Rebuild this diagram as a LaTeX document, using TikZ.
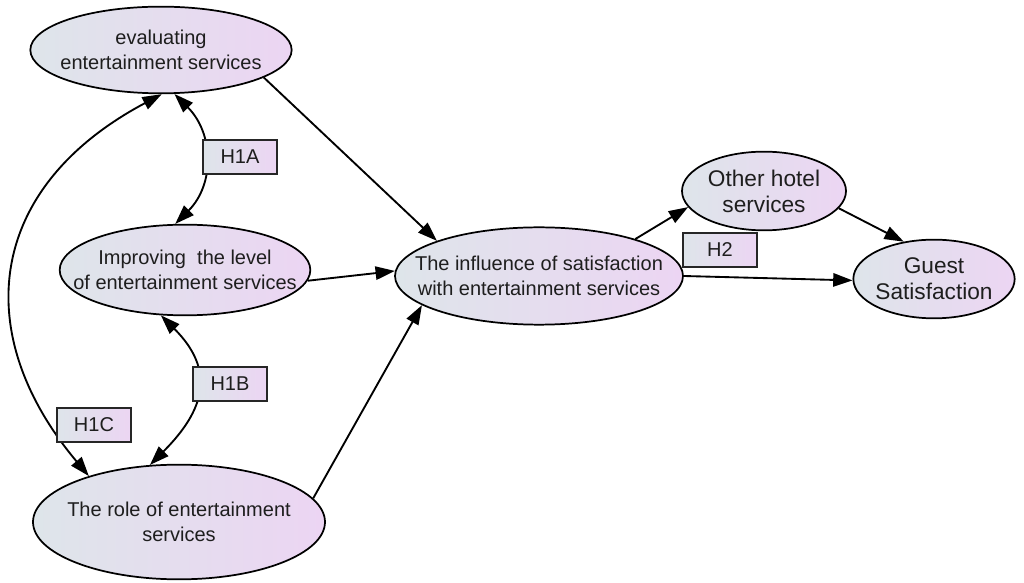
\documentclass[tikz,border=0pt]{standalone}
\usepackage{fontspec}
\setmainfont{Liberation Sans}
\usetikzlibrary{shapes.geometric,arrows.meta}
\definecolor{lfill}{HTML}{DEE5EA}
\definecolor{rfill}{HTML}{ECD5F3}
\definecolor{txt}{HTML}{1E1E1E}
\tikzset{
  ell/.style={ellipse, draw=black, line width=1.3pt, inner xsep=-24pt, inner ysep=-6pt, left color=lfill, right color=rfill,
     text=txt, align=center, font=\fontsize{15}{18.5}\selectfont},
  bigell/.style={ell, font=\fontsize{17}{19.5}\selectfont},
  hbox/.style={rectangle, draw=black!85, line width=1.4pt, left color=lfill, right color=rfill,
     text=txt, minimum width=56pt, minimum height=26pt, inner sep=0pt, font=\fontsize{15}{18}\selectfont},
  conn/.style={line width=1.4pt, -{Triangle[length=14.5pt,width=10pt]}},
  dconn/.style={line width=1.4pt, {Triangle[length=14.5pt,width=10pt]}-{Triangle[length=14.5pt,width=10pt]}}
}
\begin{document}
\begin{tikzpicture}[x=0.75pt,y=0.75pt]
\useasboundingbox (0,0) rectangle (1024,582);
\node[ell, minimum width=196pt, minimum height=65pt] (eval) at (161,532) {evaluating\\entertainment services};
\node[ell, minimum width=188pt, minimum height=68pt] (impr) at (185,312) {Improving\ \ the level\\of entertainment services};
\node[ell, minimum width=219pt, minimum height=86pt] (role) at (179,60) {The role of entertainment\\services};
\node[ell, minimum width=216pt, minimum height=73pt] (infl) at (539,306) {The influence of satisfaction\\with entertainment services};
\node[bigell, minimum width=123pt, minimum height=59pt] (other) at (764,391) {Other hotel\\services};
\node[bigell, minimum width=121pt, minimum height=59pt] (guest) at (934,303) {Guest\\Satisfaction};

\draw[conn] (eval.-15) -- (infl.161);
\draw[conn] (impr.-5) -- (infl.178);
\draw[conn] (role.10) -- (infl.194);
\draw[conn] (infl.21) -- (other.192);
\draw[conn] (other.-13) -- (guest.129);
\draw[conn] (infl.0) -- (guest.181);

\draw[dconn] (eval.287) to[out=-45,in=45,looseness=1.1] (impr.102);
\draw[dconn] (impr.242) to[out=-45,in=45,looseness=1.33] (role.117);
\draw[dconn] (eval.271) .. controls +(-175,-93) and +(-120,143) .. (role.153);

\node[hbox] (h1a) at (240,425) {H1A};
\node[hbox] (h1b) at (230,198) {H1B};
\node[hbox] (h1c) at (94,157) {H1C};
\node[hbox] (h2) at (720,332) {H2};
\end{tikzpicture}
\end{document}
